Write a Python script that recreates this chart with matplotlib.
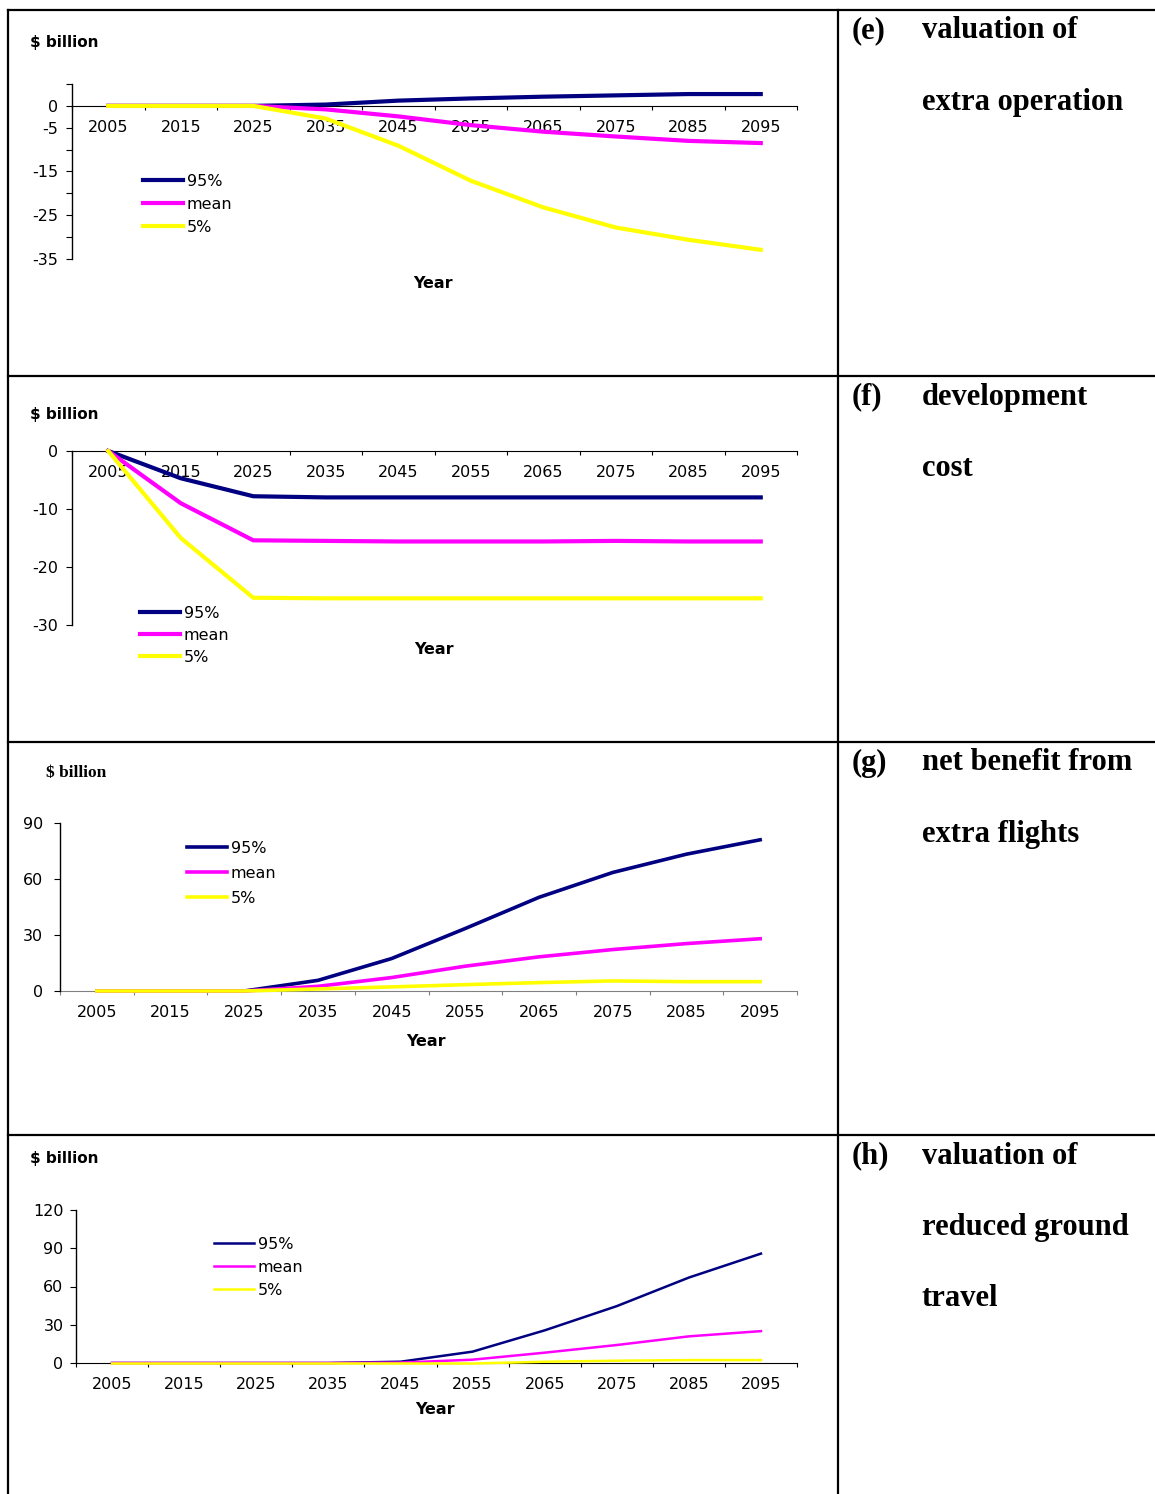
import numpy as np
import matplotlib.pyplot as plt
from matplotlib.lines import Line2D
from matplotlib.transforms import Affine2D

years = ['2005', '2015', '2025', '2035', '2045', '2055', '2065', '2075', '2085', '2095']
series_labels = ['95%', 'mean', '5%']

# (e) valuation of extra operation, $ billion
e_p95 = [0, 0, 0, 0.3, 1.2, 1.7, 2.1, 2.4, 2.7, 2.7]
e_mean = [0, 0, 0, -0.8, -2.4, -4.4, -5.9, -7.0, -8.0, -8.5]
e_p5 = [0, 0, 0, -2.9, -9.1, -17.1, -23.2, -27.8, -30.6, -32.9]

# (f) development cost
f_p95 = [0, -4.7, -7.8, -8.0, -8.0, -8.0, -8.0, -8.0, -8.0, -8.0]
f_mean = [0, -9.0, -15.4, -15.5, -15.6, -15.6, -15.6, -15.5, -15.6, -15.6]
f_p5 = [0, -15.0, -25.3, -25.4, -25.4, -25.4, -25.4, -25.4, -25.4, -25.4]

# (g) net benefit from extra flights
g_p95 = [0, 0, 0, 5.7, 17.4, 33.5, 50.2, 63.5, 73.3, 81.0]
g_mean = [0, 0, 0, 2.5, 7.2, 13.3, 18.3, 22.2, 25.4, 28.0]
g_p5 = [0, 0, 0, 1.1, 2.2, 3.4, 4.5, 5.4, 5.0, 5.0]

# (h) valuation of reduced ground travel
h_p95 = [0, 0, 0, 0, 1.0, 8.9, 25.6, 44.6, 67.0, 85.8]
h_mean = [0, 0, 0, 0, 0.3, 2.6, 8.1, 14.1, 20.9, 25.0]
h_p5 = [-0.4, -0.4, -0.4, -0.4, -0.4, -0.4, 1.0, 1.8, 2.3, 2.3]

row_letters = ['(e)', '(f)', '(g)', '(h)']
row_titles = [
    ['valuation of', 'extra operation'],
    ['development', 'cost'],
    ['net benefit from', 'extra flights'],
    ['valuation of', 'reduced ground', 'travel'],
]

COLORS = ['#000080', '#FF00FF', '#FFFF00']
W, H = 1155, 1494
FS = 11.5

fig = plt.figure(figsize=(W / 100, H / 100), dpi=100)
# pixel coordinates measured from the top-left corner
px = Affine2D().scale(1 / W, -1 / H).translate(0, 1) + fig.transFigure


def add_axes_px(left, top, right, bottom):
    return fig.add_axes([left / W, 1 - bottom / H, (right - left) / W, (bottom - top) / H])


def draw_panel(ax, series, lw, ylim, yticks, ylabels, ypad, xcolor='black'):
    x = np.arange(len(years))
    for vals, color, label in zip(series, COLORS, series_labels):
        ax.plot(x, vals, color=color, lw=lw, label=label, clip_on=False,
                solid_joinstyle='round')
    ax.set_xlim(-0.5, len(years) - 0.5)
    ax.set_ylim(*ylim)
    ax.patch.set_visible(False)
    ax.spines[['top', 'right']].set_visible(False)
    ax.spines['bottom'].set_position(('data', 0))
    ax.spines['bottom'].set_color(xcolor)
    ax.spines['bottom'].set_zorder(0)
    ax.spines['left'].set_linewidth(1.0)
    ax.set_xticks(np.arange(-0.5, len(years), 1))
    ax.set_xticklabels([])
    ax.set_xticks(x, minor=True)
    ax.set_xticklabels(years, minor=True)
    ax.tick_params(axis='x', which='major', direction='out', length=3, color=xcolor)
    ax.tick_params(axis='x', which='minor', length=0, pad=10, labelsize=FS)
    ax.set_yticks(yticks)
    ax.set_yticklabels(ylabels)
    ax.tick_params(axis='y', direction='out', length=4, pad=ypad, labelsize=FS)


plt.rcParams['font.family'] = 'DejaVu Sans'

# (e)
ax_e = add_axes_px(72, 84, 797, 259)
yt = list(range(-35, 10, 5))
draw_panel(ax_e, [e_p95, e_mean, e_p5], 3.0, (-35, 5), yt,
           [str(v) if v in (0, -5, -15, -25, -35) else '' for v in yt], 6)

# (f)
ax_f = add_axes_px(72, 451, 797, 625)
draw_panel(ax_f, [f_p95, f_mean, f_p5], 3.0, (-30, 0), [-30, -20, -10, 0],
           ['-30', '-20', '-10', '0'], 6)

# (g)
ax_g = add_axes_px(60, 823, 797, 991)
draw_panel(ax_g, [g_p95, g_mean, g_p5], 2.6, (0, 90), [0, 30, 60, 90],
           ['0', '30', '60', '90'], 8, xcolor='#808080')

# (h)
ax_h = add_axes_px(76, 1210, 797, 1363)
draw_panel(ax_h, [h_p95, h_mean, h_p5], 1.8, (0, 120), [0, 30, 60, 90, 120],
           ['0', '30', '60', '90', '120'], 5)

legend_spots = [(ax_e, 143, 174, 0.50), (ax_f, 140, 606, 0.44),
                (ax_g, 187, 841, 0.62), (ax_h, 214, 1237, 0.50)]
for ax, lx, ly, spacing in legend_spots:
    ax.legend(loc='upper left', bbox_to_anchor=(lx, ly), bbox_transform=px,
              frameon=False, fontsize=FS, handlelength=2.5, handletextpad=0.25,
              labelspacing=spacing, borderpad=0, borderaxespad=0)

ylabel_spots = [(30, 42, 'DejaVu Sans', 11), (30, 415, 'DejaVu Sans', 11),
                (46, 773, 'Liberation Serif', 12.5), (30, 1158, 'DejaVu Sans', 11)]
for x, y, family, size in ylabel_spots:
    fig.text(x, y, '$ billion', transform=px, fontsize=size, fontweight='bold',
             family=family, ha='left', va='center')

for x, y in [(433, 284), (434, 650), (426, 1041), (435, 1410)]:
    fig.text(x, y, 'Year', transform=px, fontsize=FS, fontweight='bold',
             ha='center', va='center')

# table frame
row_tops = [10, 376, 742, 1135]
line_kw = dict(transform=px, color='black', lw=1.6)
for y in row_tops:
    fig.add_artist(Line2D([8, W], [y, y], **line_kw))
for x in (8, 838):
    fig.add_artist(Line2D([x, x], [10, H], **line_kw))

# row captions
for top, letter, lines in zip(row_tops, row_letters, row_titles):
    fig.text(852, top + 21, letter, transform=px, family='Liberation Serif',
             fontweight='bold', fontsize=22, ha='left', va='center')
    for k, line in enumerate(lines):
        fig.text(922, top + 21 + 71.5 * k, line, transform=px, family='Liberation Serif',
                 fontweight='bold', fontsize=22, ha='left', va='center')

fig.savefig('out.png', dpi=100)
